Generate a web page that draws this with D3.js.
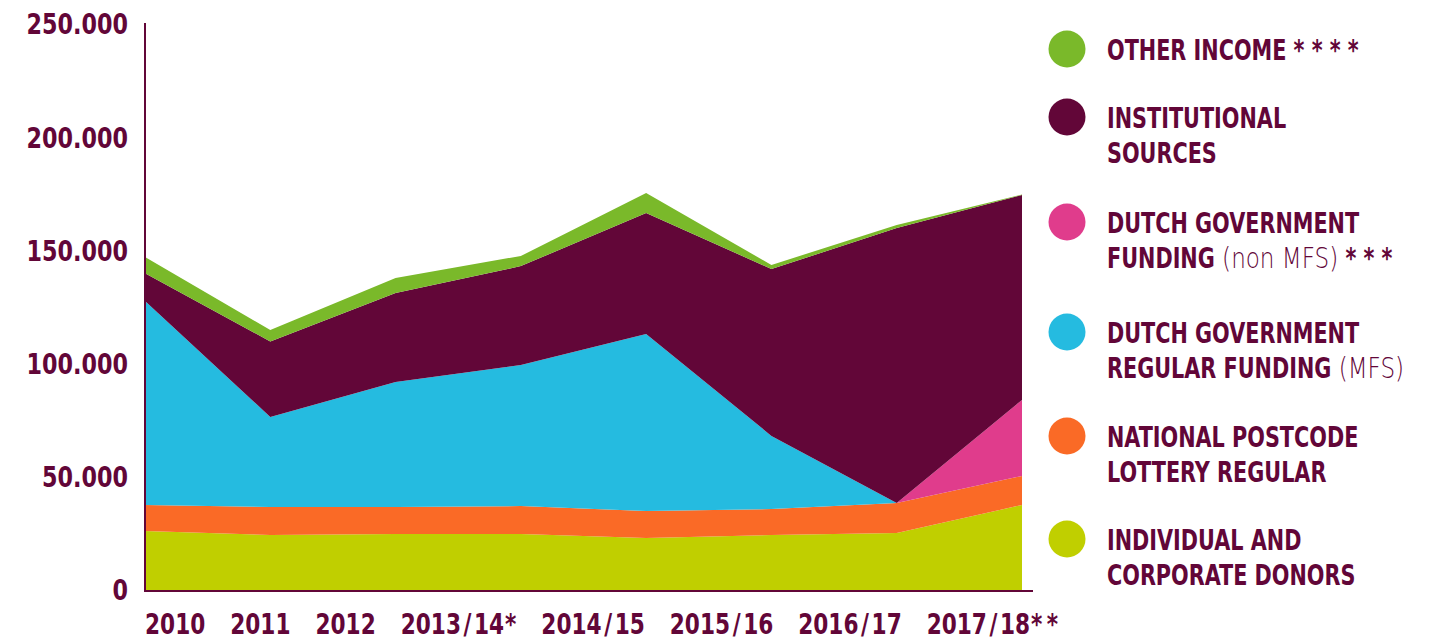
<!DOCTYPE html>
<html>
<head>
<meta charset="utf-8">
<script src="https://cdn.jsdelivr.net/npm/d3@7"></script>
<style>
  body { margin: 0; background: #fff; }
  text { font-family: "DejaVu Sans Condensed", "Liberation Sans Narrow", "Roboto", sans-serif; fill: #620638; }
</style>
</head>
<body>
<script>
// Data (EUR x 1000)
var periods = ["2010", "2011", "2012", "2013/14*", "2014/15", "2015/16", "2016/17", "2017/18**"];
var donors    = [26.5, 24.7, 25.2, 25.2, 23.4, 24.7, 25.6, 38.0];
var lottery   = [11.5, 12.4, 11.9, 12.3, 11.9, 11.5, 13.3, 12.8];
var mfs       = [90.1, 39.8, 55.2, 62.3, 78.2, 32.3, 0, 0];
var nonMfs    = [0, 0, 0, 0, 0, 0, 0, 33.6];
var instit    = [12.3, 33.3, 39.3, 43.7, 53.5, 73.7, 121.4, 90.5];
var other     = [7.1, 5.1, 6.6, 4.5, 8.8, 1.8, 1.4, 0.2];
var yTicks = [0, 50000, 100000, 150000, 200000, 250000];

var keys = ["donors", "lottery", "mfs", "nonMfs", "instit", "other"];
var colors = ["#c0cf00", "#fa6a26", "#25bbe0", "#e03c8c", "#620638", "#7ab92a"];

// legend, top to bottom: each line is [bold part, light part, stars]
var legendItems = [
  {key: "other",   lines: [["OTHER INCOME", "", " * * * *"]]},
  {key: "instit",  lines: [["INSTITUTIONAL"], ["SOURCES"]]},
  {key: "nonMfs",  lines: [["DUTCH GOVERNMENT"], ["FUNDING", " (non MFS)", " * * *"]]},
  {key: "mfs",     lines: [["DUTCH GOVERNMENT"], ["REGULAR FUNDING", " (MFS)"]]},
  {key: "lottery", lines: [["NATIONAL POSTCODE"], ["LOTTERY REGULAR"]]},
  {key: "donors",  lines: [["INDIVIDUAL AND"], ["CORPORATE DONORS"]]}
];

var rows = periods.map(function(p, i) {
  return {
    period: p,
    donors: donors[i] * 1000,
    lottery: lottery[i] * 1000,
    mfs: mfs[i] * 1000,
    nonMfs: nonMfs[i] * 1000,
    instit: instit[i] * 1000,
    other: other[i] * 1000
  };
});

var W = 1440, H = 642;
var svg = d3.select("body").append("svg")
    .attr("width", W)
    .attr("height", H);

var x = d3.scalePoint().domain(periods).range([145, 1022]);
var y = d3.scaleLinear().domain([0, 250000]).range([591, 25]);
var color = d3.scaleOrdinal().domain(keys).range(colors);

var series = d3.stack().keys(keys)(rows);

var area = d3.area()
    .x(d => x(d.data.period))
    .y0(d => y(d[0]))
    .y1(d => y(d[1]));

svg.append("g")
  .selectAll("path")
  .data(series)
  .join("path")
    .attr("d", area)
    .attr("fill", d => color(d.key));

// y axis (dutch number format)
var nl = d3.formatLocale({decimal: ",", thousands: ".", grouping: [3], currency: ["", ""]});
var sy = 0.9;
var yAxis = svg.append("g")
    .attr("transform", "translate(145,0)")
    .call(d3.axisLeft(y).tickValues(yTicks).tickSize(0).tickPadding(0).tickFormat(nl.format(",")));
yAxis.select(".domain").remove();
yAxis.selectAll("text")
    .attr("x", 0)
    .attr("transform", `translate(-17,0) scale(${sy},1)`)
    .attr("font-size", 27.5)
    .attr("font-weight", "bold")
    .attr("font-family", null);

svg.append("line")
    .attr("x1", 145).attr("x2", 145)
    .attr("y1", 23).attr("y2", 592)
    .attr("stroke", "#620638").attr("stroke-width", 2);
svg.append("line")
    .attr("x1", 144).attr("x2", 1033)
    .attr("y1", 591).attr("y2", 591)
    .attr("stroke", "#620638").attr("stroke-width", 2);

// x labels, justified along the axis like the original
var sx = 0.86;
var xl = svg.append("g").selectAll("text")
  .data(periods)
  .join("text")
    .attr("font-size", 28)
    .attr("font-weight", "bold");
// slash and stars get a bit more room (wider glyphs in the original)
xl.each(function(d) {
  var t = d3.select(this);
  d.split(/([\/*])/).filter(s => s).forEach(function(s, k) {
    var ts = t.append("tspan").text(s);
    if (s == "/") ts.attr("dx", 3);
    else if (s == "*") ts.attr("dx", k > 0 && d.split(/([\/*])/).filter(s => s)[k - 1] == "*" ? 5 : 1);
    else if (k > 0) ts.attr("dx", 3);
  });
});
var widths = xl.nodes().map(n => n.getBBox().width * sx);
var gap = (1058 - 145 - d3.sum(widths)) / (periods.length - 1);
var pos = 145;
xl.attr("transform", function(d, i) {
  var p = pos;
  pos += widths[i] + gap;
  return `translate(${p},634) scale(${sx},1)`;
});

// legend
var ly = [49, 117, 222, 332, 436, 539];
var sl = 0.81;
var leg = svg.append("g").selectAll("g")
  .data(legendItems)
  .join("g")
    .attr("transform", (d, i) => `translate(0,${ly[i]})`);
leg.append("circle")
    .attr("cx", 1067)
    .attr("r", 18.5)
    .attr("fill", d => color(d.key));
leg.each(function(d) {
  var g = d3.select(this);
  d.lines.forEach(function(line, j) {
    var t = g.append("text")
        .attr("transform", `translate(1107,${10.5 + j * 35}) scale(${sl},1)`)
        .attr("font-size", 28.5);
    line.forEach(function(part, k) {
      if (!part) return;
      var ts = t.append("tspan").text(part);
      if (k == 1) {
        ts.attr("font-family", "DejaVu Sans, sans-serif").attr("font-weight", 200);
      } else {
        ts.attr("font-weight", "bold");
      }
    });
  });
});
</script>
</body>
</html>
